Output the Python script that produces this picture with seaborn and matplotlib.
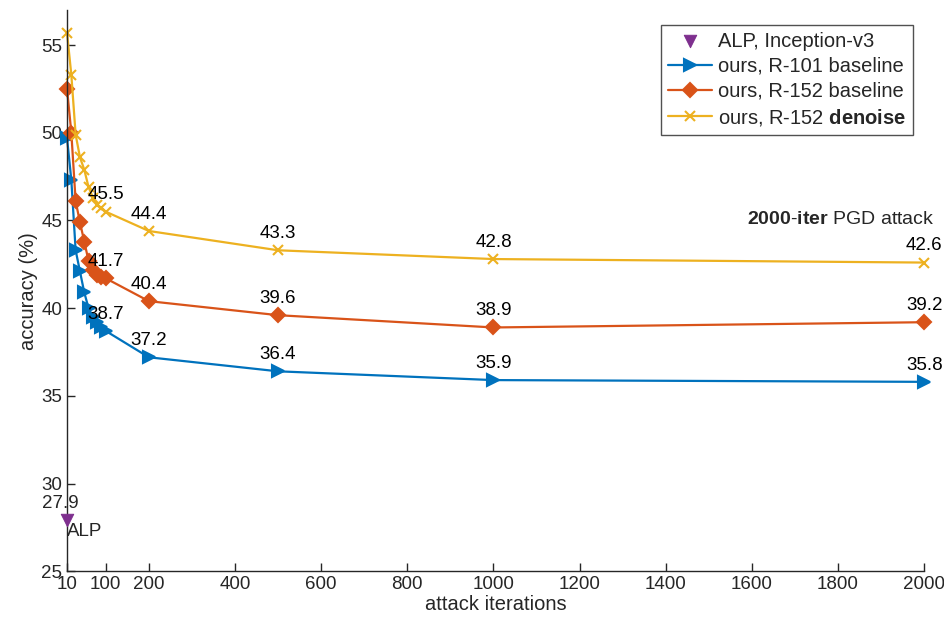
import matplotlib
matplotlib.use("Agg")
import matplotlib.pyplot as plt
import seaborn as sns
import numpy as np
import pandas as pd

sns.set_style("ticks")
plt.rcParams['font.family'] = ['Liberation Sans', 'DejaVu Sans']
plt.rcParams['mathtext.fontset'] = 'custom'
plt.rcParams['mathtext.rm'] = 'Liberation Sans'
plt.rcParams['mathtext.bf'] = 'Liberation Sans:bold'

# data
iters = [10, 20, 30, 40, 50, 60, 70, 80, 90, 100, 200, 500, 1000, 2000]
r101_base = [49.7, 47.3, 43.3, 42.1, 40.9, 40.0, 39.5, 39.2, 38.9, 38.7, 37.2, 36.4, 35.9, 35.8]
r152_base = [52.5, 50.0, 46.1, 44.9, 43.8, 42.7, 42.2, 41.9, 41.8, 41.7, 40.4, 39.6, 38.9, 39.2]
r152_denoise = [55.7, 53.3, 49.9, 48.6, 47.9, 46.9, 46.3, 45.9, 45.7, 45.5, 44.4, 43.3, 42.8, 42.6]
alp_x = [10]
alp_y = [27.9]
labeled_iters = [100, 200, 500, 1000, 2000]
xticks = [10, 100, 200, 400, 600, 800, 1000, 1200, 1400, 1600, 1800, 2000]
yticks = [25, 30, 35, 40, 45, 50, 55]

blue = "#0072BD"
orange = "#D95319"
yellow = "#EDB120"
purple = "#7E2F8E"

fig = plt.figure(figsize=(9.44, 6.23), dpi=100)
ax = fig.add_axes([0.071, 0.083, 0.908, 0.901])

alp = pd.DataFrame({"it": alp_x, "acc": alp_y})
sns.scatterplot(data=alp, x="it", y="acc", ax=ax, marker="v", s=80, color=purple,
                edgecolor=purple, label="ALP, Inception-v3", zorder=5, clip_on=False)

series = [
    ("ours, R-101 baseline", r101_base, blue, ">", 9),
    ("ours, R-152 baseline", r152_base, orange, "D", 7.5),
    ("ours, R-152 $\\bf{denoise}$", r152_denoise, yellow, "x", 7),
]
for name, vals, col, mk, ms in series:
    df = pd.DataFrame({"it": iters, "acc": vals})
    sns.lineplot(data=df, x="it", y="acc", ax=ax, color=col, marker=mk, markersize=ms,
                 markeredgecolor=col, markeredgewidth=1.5, linewidth=1.6, label=name,
                 clip_on=False)
    for xi, yi in zip(iters, vals):
        if xi in labeled_iters:
            ax.annotate(f"{yi:.1f}", (xi, yi), xytext=(0, 6), textcoords="offset points",
                        ha="center", va="bottom", fontsize=13.5, color="black")

ax.annotate(f"{alp_y[0]:.1f}", (alp_x[0], alp_y[0]), xytext=(-5, 6), textcoords="offset points",
            ha="center", va="bottom", fontsize=13.5)
ax.annotate("ALP", (alp_x[0], alp_y[0]), xytext=(0, -2), textcoords="offset points",
            ha="left", va="top", fontsize=13.5)

ax.text(1.012, 0.626, r"$\bf{2000}$-$\bf{iter}$ PGD attack", transform=ax.transAxes,
        ha="right", va="center", fontsize=14)

ax.set_xlim(10, 2000)
ax.set_ylim(25, 57)
ax.set_xticks(xticks)
ax.set_xticklabels([str(t) for t in xticks])
ax.set_yticks(yticks)
ax.tick_params(direction="in", length=6, labelsize=13.5, colors="#262626", width=1)
ax.set_xlabel("attack iterations", fontsize=14.5, color="#262626", labelpad=1)
ax.set_ylabel("accuracy (%)", fontsize=14.5, color="#262626", labelpad=2)
sns.despine(ax=ax)
for s in ["left", "bottom"]:
    ax.spines[s].set_color("#262626")
    ax.spines[s].set_linewidth(1)

leg = ax.legend(loc="upper right", bbox_to_anchor=(0.999, 0.992), fontsize=14.5, frameon=True,
                fancybox=False, edgecolor="#262626", handlelength=2.2, handletextpad=0.3,
                borderpad=0.35, labelspacing=0.3)
leg.get_frame().set_linewidth(1)

fig.savefig("out.png", dpi=100)
